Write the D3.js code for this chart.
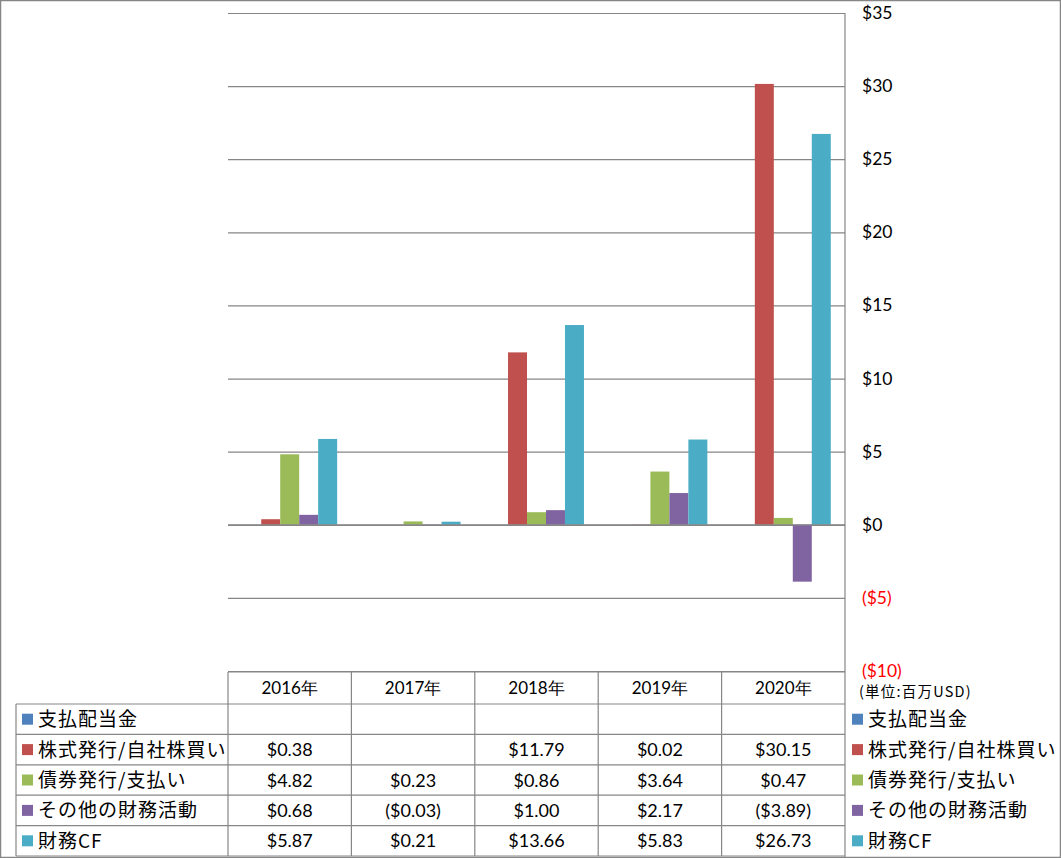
<!DOCTYPE html>
<html>
<head>
<meta charset="utf-8">
<script src="https://cdn.jsdelivr.net/npm/d3@7"></script>
<style>
  body { margin: 0; background: #fff; }
  svg { display: block; }
  .num { font-family: Lato, "Liberation Sans", sans-serif; }
  .jp { font-family: "Noto Sans CJK JP", sans-serif; }
</style>
</head>
<body>
<svg id="chart" width="1061" height="858"></svg>
<script>
const years = ["2016年", "2017年", "2018年", "2019年", "2020年"];
const seriesNames = ["支払配当金", "株式発行/自社株買い", "債券発行/支払い", "その他の財務活動", "財務CF"];
const seriesColors = ["#4F81BD", "#C0504D", "#9BBB59", "#8064A2", "#4BACC6"];
const dividends = [null, null, null, null, null];
const equity = [0.38, null, 11.79, 0.02, 30.15];
const debt = [4.82, 0.23, 0.86, 3.64, 0.47];
const other = [0.68, -0.03, 1.00, 2.17, -3.89];
const financingCF = [5.87, 0.21, 13.66, 5.83, 26.73];
const yTicks = [35, 30, 25, 20, 15, 10, 5, 0, -5, -10];
const unitLabel = "(単位:百万USD)";

const seriesValues = [dividends, equity, debt, other, financingCF];

const svg = d3.select("#chart");
const W = 1061, H = 858;
const plotLeft = 228, plotRight = 845, plotTop = 13, plotBottom = 671;
const gridColor = "#868686";

// outer border
svg.append("rect").attr("x", 0.5).attr("y", 0.5).attr("width", W - 1).attr("height", H - 1)
  .attr("fill", "#fff").attr("stroke", gridColor).attr("stroke-width", 1.5);

const y = d3.scaleLinear().domain([-10, 35]).range([plotBottom, plotTop]);
const x = d3.scaleBand().domain(years).range([plotLeft, plotRight]).paddingInner(0).paddingOuter(0);
const catW = x.bandwidth();
const barW = catW / 6.5;
const xs = d3.scaleBand().domain(seriesNames)
  .range([barW * 0.75, catW - barW * 0.75]).paddingInner(0).paddingOuter(0);

// gridlines
const yAxis = d3.axisRight(y).tickValues(yTicks).tickSize(plotRight - plotLeft).tickFormat("");
const gAxis = svg.append("g").attr("transform", `translate(${plotLeft},0)`).call(yAxis);
gAxis.select(".domain").remove();
gAxis.selectAll(".tick line").attr("stroke", gridColor).attr("stroke-width", 1.2);

// y labels on right
svg.append("g").selectAll("text").data(yTicks).join("text")
  .attr("class", "num")
  .attr("x", 862).attr("y", d => y(d) + 6)
  .attr("font-size", 17.5)
  .attr("fill", d => d < 0 ? "#FF0000" : "#000")
  .text(d => d < 0 ? `($${-d})` : `$${d}`);

svg.append("text").attr("class", "jp").attr("x", 859).attr("y", 697)
  .attr("font-size", 14.5).attr("letter-spacing", 1.2).attr("fill", "#000").text(unitLabel);

// bars
const barsData = [];
seriesValues.forEach((vals, si) => {
  vals.forEach((v, yi) => {
    if (v !== null) barsData.push({ s: seriesNames[si], c: seriesColors[si], year: years[yi], v });
  });
});
svg.append("g").selectAll("rect").data(barsData).join("rect")
  .attr("x", d => x(d.year) + xs(d.s))
  .attr("width", xs.bandwidth())
  .attr("y", d => Math.min(y(d.v), y(0)))
  .attr("height", d => Math.abs(y(d.v) - y(0)))
  .attr("fill", d => d.c);

// redraw zero line on top
svg.append("line").attr("x1", plotLeft).attr("x2", plotRight).attr("y1", y(0)).attr("y2", y(0))
  .attr("stroke", gridColor).attr("stroke-width", 1.2);

// right vertical axis line
svg.append("line").attr("x1", plotRight).attr("x2", plotRight).attr("y1", plotTop).attr("y2", H)
  .attr("stroke", gridColor).attr("stroke-width", 1.2);

// data table
const headerTop = 672, headerBottom = 704, tableBottom = 856;
const rowH = (tableBottom - headerBottom) / 5;
const tableLeft = 16;
const tg = svg.append("g");
const lineAttr = sel => sel.attr("stroke", gridColor).attr("stroke-width", 1.2);

lineAttr(tg.append("line").attr("x1", plotLeft).attr("x2", plotRight).attr("y1", headerTop).attr("y2", headerTop));
for (let i = 0; i <= 5; i++) {
  const yy = headerBottom + i * rowH;
  lineAttr(tg.append("line").attr("x1", tableLeft).attr("x2", plotRight).attr("y1", yy).attr("y2", yy));
}
years.forEach(yr => {
  lineAttr(tg.append("line").attr("x1", x(yr)).attr("x2", x(yr)).attr("y1", headerTop).attr("y2", tableBottom));
});
lineAttr(tg.append("line").attr("x1", tableLeft).attr("x2", tableLeft).attr("y1", headerBottom).attr("y2", tableBottom));

// year headers
tg.selectAll("text.year").data(years).join("text")
  .attr("class", "year num")
  .attr("x", d => x(d) + catW / 2).attr("y", (headerTop + headerBottom) / 2 + 6)
  .attr("text-anchor", "middle").attr("font-size", 17).attr("fill", "#000")
  .text(d => d);

const fmt = v => v === null ? "" : (v < 0 ? `($${(-v).toFixed(2)})` : `$${v.toFixed(2)}`);

seriesNames.forEach((name, si) => {
  const cy = headerBottom + si * rowH + rowH / 2;
  tg.append("rect").attr("x", 22).attr("y", cy - 5.5).attr("width", 11).attr("height", 11).attr("fill", seriesColors[si]);
  tg.append("text").attr("class", "jp").attr("x", 38).attr("y", cy + 7)
    .attr("font-size", 19).attr("letter-spacing", 1).attr("fill", "#000").text(name);
  tg.append("rect").attr("x", 852).attr("y", cy - 5.5).attr("width", 11).attr("height", 11).attr("fill", seriesColors[si]);
  tg.append("text").attr("class", "jp").attr("x", 868).attr("y", cy + 7)
    .attr("font-size", 19).attr("letter-spacing", 1).attr("fill", "#000").text(name);
  seriesValues[si].forEach((v, yi) => {
    tg.append("text").attr("class", "num")
      .attr("x", x(years[yi]) + catW / 2).attr("y", cy + 6.5)
      .attr("text-anchor", "middle").attr("font-size", 18).attr("fill", "#000")
      .text(fmt(v));
  });
});
</script>
</body>
</html>
